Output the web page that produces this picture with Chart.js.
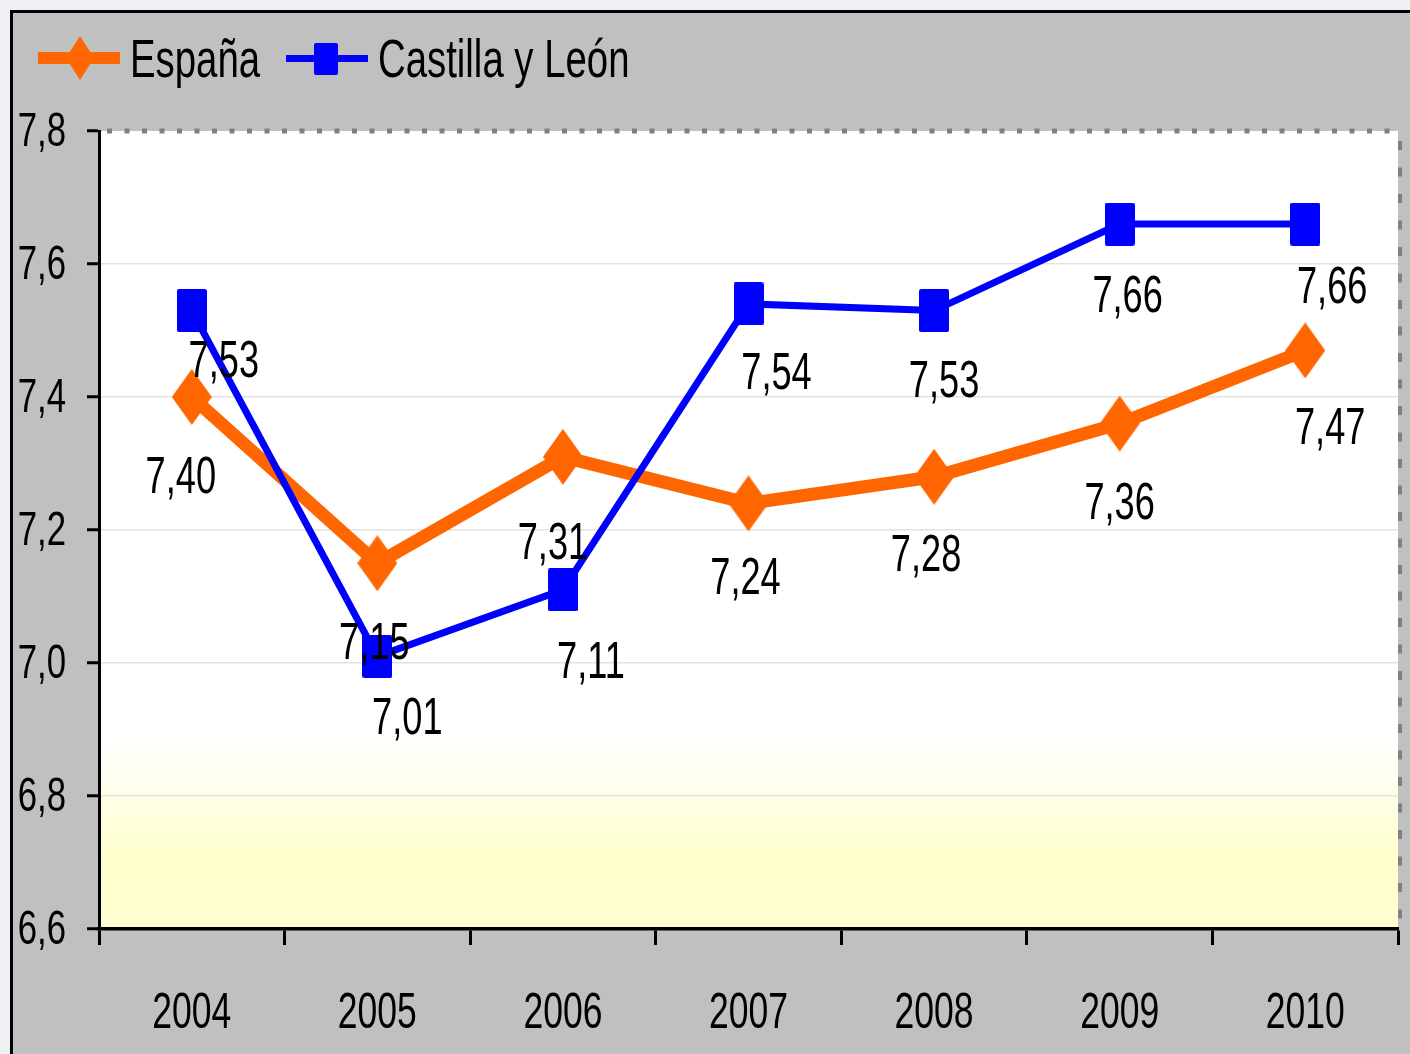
<!DOCTYPE html>
<html>
<head>
<meta charset="utf-8">
<script src="https://cdn.jsdelivr.net/npm/chart.js@4.4.1/dist/chart.umd.min.js"></script>
<style>
  html, body { margin: 0; padding: 0; background: #eef0f4; }
  #wrap { width: 1410px; height: 1054px; }
</style>
</head>
<body>
<div id="wrap"><canvas id="grafico" width="1410" height="1054"></canvas></div>
<script>
// datos
const years = ['2004', '2005', '2006', '2007', '2008', '2009', '2010'];
const espana = [7.40, 7.15, 7.31, 7.24, 7.28, 7.36, 7.47];
const castilla = [7.53, 7.01, 7.11, 7.54, 7.53, 7.66, 7.66];
const seriesNames = ['España', 'Castilla y León'];
const yTicks = [6.6, 6.8, 7.0, 7.2, 7.4, 7.6, 7.8];

// desplazamiento de las etiquetas de datos (px, centro del texto)
const offEspana = [[-11, 82], [-3, 82], [-10, 88], [-3, 77], [-8, 80], [0, 81], [25, 80]];
const offCastilla = [[32, 52], [30, 64], [28, 74], [28, 71], [10, 72], [8, 74], [27, 65]];

const FONT = "'Liberation Sans', Arial, sans-serif";
const ESTRECHO = 0.71; // la fuente del original es muy estrecha
const NARANJA = '#FF6600';
const AZUL = '#0000FF';

function coma(v, d) { return v.toFixed(d).replace('.', ','); }

function texto(ctx, s, x, y, size, align) {
  ctx.save();
  ctx.translate(x, y);
  ctx.scale(ESTRECHO, 1);
  ctx.font = size + 'px ' + FONT;
  ctx.fillStyle = '#000';
  ctx.textAlign = align;
  ctx.textBaseline = 'alphabetic';
  ctx.fillText(s, 0, 0);
  ctx.restore();
}

// marcadores
function rombo(w, h) {
  const c = document.createElement('canvas');
  c.width = w; c.height = h;
  const g = c.getContext('2d');
  g.fillStyle = NARANJA;
  g.beginPath();
  g.moveTo(w / 2, 0); g.lineTo(w, h / 2); g.lineTo(w / 2, h); g.lineTo(0, h / 2);
  g.closePath(); g.fill();
  return c;
}
function cuadro(w, h) {
  const c = document.createElement('canvas');
  c.width = w; c.height = h;
  const g = c.getContext('2d');
  g.fillStyle = AZUL;
  g.beginPath();
  g.roundRect(0, 0, w, h, 2);
  g.fill();
  return c;
}
const romboG = rombo(40, 56), cuadroG = cuadro(30, 43);
const romboL = rombo(28, 44), cuadroL = cuadro(24, 32);

const fondo = {
  id: 'fondo',
  beforeDraw(chart) {
    const ctx = chart.ctx, a = chart.chartArea;
    ctx.save();
    ctx.fillStyle = '#eef0f4';
    ctx.fillRect(0, 0, chart.width, chart.height);
    ctx.fillStyle = '#C0C0C0';
    ctx.fillRect(10, 10, chart.width - 10, chart.height - 10);
    ctx.fillStyle = '#000';
    ctx.fillRect(10, 10, chart.width - 10, 3);
    ctx.fillRect(10, 10, 3, chart.height - 10);
    const grad = ctx.createLinearGradient(0, a.top, 0, a.bottom);
    grad.addColorStop(0, '#ffffff');
    grad.addColorStop((740 - a.top) / a.height, '#ffffff');
    grad.addColorStop((860 - a.top) / a.height, '#ffffcc');
    grad.addColorStop(1, '#ffffd2');
    ctx.fillStyle = grad;
    ctx.fillRect(a.left, a.top, a.width, a.height);
    ctx.restore();
  },
  afterDraw(chart) {
    const ctx = chart.ctx, a = chart.chartArea;
    ctx.save();
    ctx.strokeStyle = '#808080';
    ctx.lineWidth = 5;
    ctx.setLineDash([5, 12.5]);
    ctx.beginPath();
    ctx.moveTo(a.left + 8, a.top);
    ctx.lineTo(a.right + 4, a.top);
    ctx.stroke();
    ctx.lineWidth = 4;
    ctx.setLineDash([9, 17.5]);
    ctx.beginPath();
    ctx.moveTo(a.right + 2, a.top + 10);
    ctx.lineTo(a.right + 2, a.bottom);
    ctx.stroke();
    ctx.restore();

    // etiquetas de los ejes
    const sx = chart.scales.x, sy = chart.scales.y;
    yTicks.forEach(v => texto(ctx, coma(v, 1), 66, sy.getPixelForValue(v) + 15, 49, 'right'));
    years.forEach((y, i) => texto(ctx, y, sx.getPixelForValue(i), 1028, 50, 'center'));

    // leyenda
    ctx.save();
    ctx.fillStyle = NARANJA;
    ctx.fillRect(38, 52, 82, 12);
    ctx.drawImage(romboL, 80 - 14, 58 - 22);
    ctx.fillStyle = AZUL;
    ctx.fillRect(286, 55, 82, 7);
    ctx.drawImage(cuadroL, 326 - 12, 59 - 16);
    ctx.restore();
    texto(ctx, seriesNames[0], 130, 77, 54, 'left');
    texto(ctx, seriesNames[1], 378, 77, 54, 'left');
  }
};

const etiquetas = {
  id: 'etiquetas',
  afterDatasetsDraw(chart) {
    const offs = [offEspana, offCastilla];
    chart.data.datasets.forEach((ds, i) => {
      chart.getDatasetMeta(i).data.forEach((p, j) => {
        texto(chart.ctx, coma(ds.data[j], 2), p.x + offs[i][j][0], p.y + offs[i][j][1] + 14, 51, 'center');
      });
    });
  }
};

new Chart(document.getElementById('grafico'), {
  type: 'line',
  data: {
    labels: years,
    datasets: [
      {
        label: seriesNames[0],
        data: espana,
        borderColor: NARANJA,
        backgroundColor: NARANJA,
        borderWidth: 13,
        pointStyle: romboG,
        pointRadius: 20,
        pointHoverRadius: 20,
        tension: 0,
        clip: false,
        order: 1
      },
      {
        label: seriesNames[1],
        data: castilla,
        borderColor: AZUL,
        backgroundColor: AZUL,
        borderWidth: 7,
        pointStyle: cuadroG,
        pointRadius: 20,
        pointHoverRadius: 20,
        tension: 0,
        clip: false,
        order: 0
      }
    ]
  },
  options: {
    responsive: false,
    animation: false,
    events: [],
    layout: { autoPadding: false, padding: { left: 12, right: 12, top: 131, bottom: 0 } },
    plugins: { legend: { display: false }, tooltip: { enabled: false } },
    scales: {
      x: {
        offset: true,
        grid: { offset: true, drawOnChartArea: false, tickLength: 16, tickColor: '#000', tickWidth: 3 },
        border: { color: '#000', width: 3.5 },
        ticks: { display: false },
        afterFit(s) { s.height = 125; s.paddingLeft = 0; s.paddingRight = 0; }
      },
      y: {
        min: 6.6,
        max: 7.8,
        afterBuildTicks(s) { s.ticks = yTicks.map(v => ({ value: v })); },
        grid: {
          color: c => (c.tick && c.tick.value > 7.79) ? 'rgba(0,0,0,0)' : '#e2e2e2',
          lineWidth: 1.5,
          tickLength: 12,
          tickColor: '#000',
          tickWidth: 3
        },
        border: { color: '#000', width: 3 },
        ticks: { display: false },
        afterFit(s) { s.width = 87; s.paddingTop = 0; s.paddingBottom = 0; }
      }
    }
  },
  plugins: [fondo, etiquetas]
});
</script>
</body>
</html>
